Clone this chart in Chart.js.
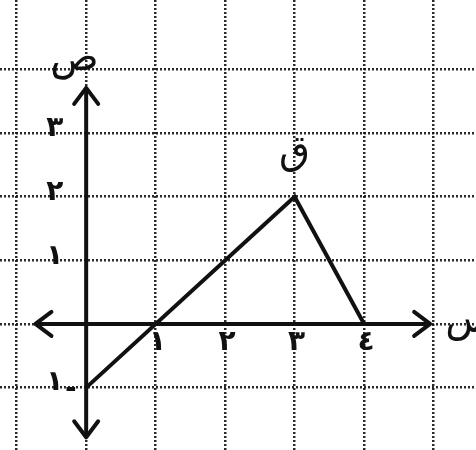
<!DOCTYPE html>
<html>
<head>
<meta charset="utf-8">
<script src="https://cdn.jsdelivr.net/npm/chart.js@4/dist/chart.umd.min.js"></script>
<style>
  html, body { margin: 0; padding: 0; background: #fff; }
  #graph { display: block; }
</style>
</head>
<body>
<canvas id="graph" width="476" height="450"></canvas>
<script>
// broken line through the point ق
const pathX = [0, 3, 4];
const pathY = [-1, 2, 0];

// numbered ticks on each axis
const xTicks = [1, 2, 3, 4];
const xTickLabels = ['١', '٢', '٣', '٤'];
const yTicks = [3, 2, 1, -1];
const yTickLabels = ['٣', '٢', '١', '١'];

// extent of the drawn axes (arrow tips)
const xAxisEnds = [-0.73, 4.95];
const yAxisEnds = [-1.78, 3.71];

const ink = '#111';
const font = 'bold 28px "DejaVu Sans"';

function arrowHead(c, x, y, dx, dy) {
  const L = 16, W = 12;
  const nx = -dy, ny = dx;
  c.beginPath();
  c.moveTo(x - dx * L + nx * W, y - dy * L + ny * W);
  c.lineTo(x, y);
  c.lineTo(x - dx * L - nx * W, y - dy * L - ny * W);
  c.stroke();
}

const decorations = {
  id: 'decorations',
  beforeDraw(chart) {
    const c = chart.ctx;
    c.save();
    c.fillStyle = '#fff';
    c.fillRect(0, 0, chart.width, chart.height);
    c.restore();
  },
  afterDatasetsDraw(chart) {
    const c = chart.ctx;
    const xs = chart.scales.x, ys = chart.scales.y;
    const px = v => xs.getPixelForValue(v);
    const py = v => ys.getPixelForValue(v);
    c.save();
    c.strokeStyle = ink;
    c.lineWidth = 4;
    c.lineCap = 'round';
    c.lineJoin = 'round';
    arrowHead(c, px(xAxisEnds[1]), py(0), 1, 0);
    arrowHead(c, px(xAxisEnds[0]), py(0), -1, 0);
    arrowHead(c, px(0), py(yAxisEnds[1]), 0, -1);
    arrowHead(c, px(0), py(yAxisEnds[0]), 0, 1);

    c.fillStyle = ink;
    c.font = font;
    c.textAlign = 'center';
    c.textBaseline = 'middle';
    xTicks.forEach((v, i) => c.fillText(xTickLabels[i], px(v) + 2, py(-0.3)));
    yTicks.forEach((v, i) => {
      c.fillText(yTickLabels[i], px(-0.45), py(v) + (v < 0 ? -5 : -4));
      if (v < 0) c.fillText('-', px(-0.22), py(v) + 2);
    });

    c.font = '40px "DejaVu Sans"';
    c.fillText('ص', px(-0.17), py(4.0) - 10);
    c.fillText('س', px(5.52), py(0) - 2);
    c.fillText('ق', px(pathX[1]), py(pathY[1]) - 44);
    c.restore();
  }
};

// whole-number grid lines only, up to the last ruled line
const gridAxis = (min, max, last) => ({
  type: 'linear',
  min: min,
  max: max,
  afterBuildTicks: scale => {
    scale.ticks = scale.ticks.filter(t => Number.isInteger(t.value) && t.value <= last);
  },
  ticks: { display: false, stepSize: 1, includeBounds: false },
  grid: { color: 'rgba(20,20,20,0.9)', lineWidth: 2.5, drawTicks: false },
  border: { display: false, dash: [2, 2] }
});

new Chart(document.getElementById('graph'), {
  type: 'scatter',
  data: {
    datasets: [
      {
        data: xAxisEnds.map(v => ({ x: v, y: 0 })),
        showLine: true, borderColor: ink, borderWidth: 4, pointRadius: 0
      },
      {
        data: yAxisEnds.map(v => ({ x: 0, y: v })),
        showLine: true, borderColor: ink, borderWidth: 4, pointRadius: 0
      },
      {
        data: pathX.map((v, i) => ({ x: v, y: pathY[i] })),
        showLine: true, borderColor: ink, borderWidth: 4, pointRadius: 0
      }
    ]
  },
  options: {
    responsive: false,
    animation: false,
    layout: { padding: 0 },
    plugins: { legend: { display: false }, tooltip: { enabled: false } },
    scales: {
      x: gridAxis(-1.24, 5.61, 5),
      y: gridAxis(-1.98, 5.09, 4)
    }
  },
  plugins: [decorations]
});
</script>
</body>
</html>
